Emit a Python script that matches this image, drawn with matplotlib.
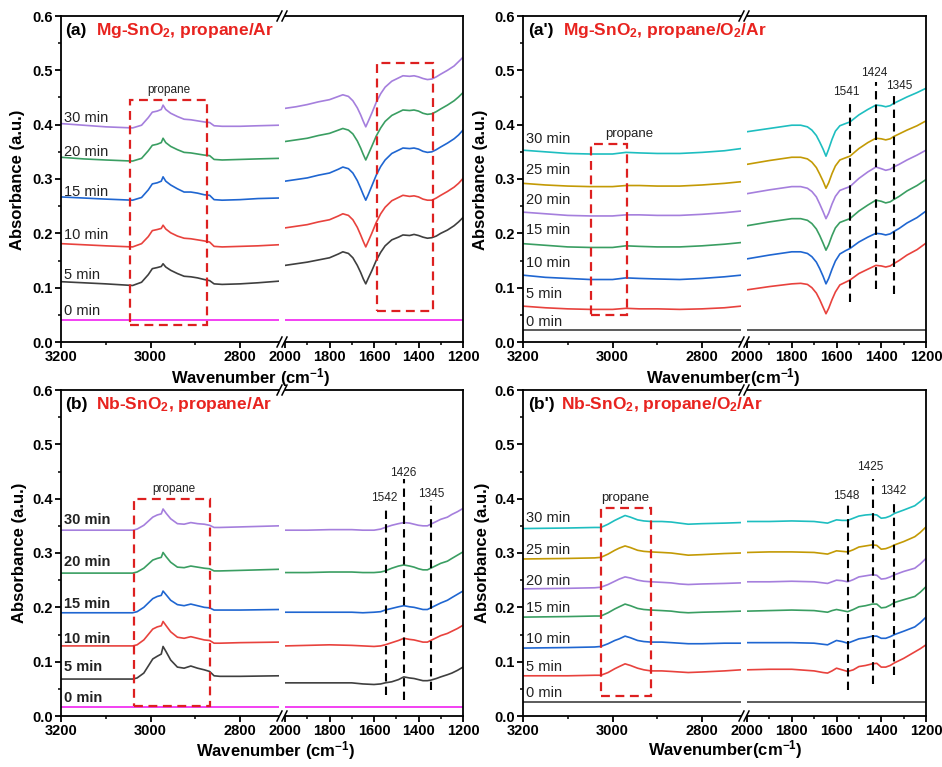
import matplotlib
matplotlib.use('Agg')
import matplotlib.pyplot as plt
from matplotlib.patches import Rectangle
from matplotlib.lines import Line2D
from matplotlib.ticker import MultipleLocator, FixedLocator, FormatStrFormatter

plt.rcParams['font.family'] = ['Liberation Sans', 'DejaVu Sans']
plt.rcParams['font.weight'] = 'bold'
plt.rcParams['mathtext.fontset'] = 'custom'
plt.rcParams['mathtext.rm'] = 'Liberation Sans:bold'
plt.rcParams['mathtext.bf'] = 'Liberation Sans:bold'
plt.rcParams['mathtext.it'] = 'Liberation Sans:bold:italic'

# ---------------- data ----------------
left_edge = [3200, 2713]
right_edge = [2000, 1200]

# (a) Mg-SnO2, propane/Ar
a_times = ['0 min', '5 min', '10 min', '15 min', '20 min', '30 min']
a_label_y = [0.057, 0.123, 0.197, 0.276, 0.349, 0.413]
a_wn_l = [3200, 3150, 3100, 3040, 3020, 3005, 2996, 2985, 2976, 2972, 2966, 2955, 2940, 2925,
          2910, 2895, 2880, 2868, 2858, 2840, 2800, 2760, 2713]
a_l_0 = [0.041, 0.041]
a_l_5 = [0.111, 0.109, 0.107, 0.104, 0.110, 0.124, 0.135, 0.137, 0.139, 0.144, 0.138, 0.132, 0.126, 0.121,
         0.120, 0.118, 0.115, 0.113, 0.107, 0.106, 0.107, 0.109, 0.112]
a_l_10 = [0.181, 0.179, 0.177, 0.175, 0.181, 0.194, 0.205, 0.207, 0.209, 0.215, 0.208, 0.201, 0.195, 0.191,
          0.190, 0.188, 0.186, 0.184, 0.176, 0.175, 0.176, 0.177, 0.179]
a_l_15 = [0.267, 0.265, 0.263, 0.261, 0.266, 0.280, 0.291, 0.293, 0.296, 0.304, 0.296, 0.289, 0.282, 0.276,
          0.276, 0.274, 0.271, 0.270, 0.262, 0.261, 0.262, 0.264, 0.265]
a_l_20 = [0.340, 0.337, 0.335, 0.333, 0.338, 0.352, 0.362, 0.364, 0.367, 0.375, 0.367, 0.360, 0.354, 0.349,
          0.348, 0.346, 0.344, 0.343, 0.336, 0.335, 0.336, 0.337, 0.338]
a_l_30 = [0.402, 0.399, 0.396, 0.394, 0.399, 0.413, 0.423, 0.425, 0.428, 0.436, 0.428, 0.421, 0.415, 0.410,
          0.409, 0.407, 0.405, 0.404, 0.398, 0.397, 0.397, 0.398, 0.399]
a_wn_r = [2000, 1950, 1900, 1850, 1800, 1760, 1740, 1715, 1695, 1675, 1660, 1648, 1637, 1625, 1610, 1590,
          1570, 1550, 1520, 1490, 1470, 1440, 1420, 1400, 1380, 1360, 1340, 1320, 1300, 1270, 1240, 1220, 1200]
a_r_0 = [0.041, 0.041]
a_r_5 = [0.141, 0.144, 0.147, 0.151, 0.155, 0.162, 0.166, 0.163, 0.155, 0.141, 0.128, 0.116, 0.107, 0.118,
         0.131, 0.150, 0.165, 0.177, 0.188, 0.193, 0.197, 0.196, 0.198, 0.196, 0.193, 0.191, 0.192, 0.195,
         0.200, 0.206, 0.214, 0.221, 0.229]
a_r_10 = [0.210, 0.213, 0.216, 0.221, 0.225, 0.232, 0.236, 0.233, 0.225, 0.211, 0.197, 0.185, 0.175, 0.186,
          0.200, 0.220, 0.236, 0.248, 0.260, 0.266, 0.270, 0.268, 0.269, 0.267, 0.263, 0.261, 0.261, 0.265,
          0.270, 0.277, 0.285, 0.292, 0.301]
a_r_15 = [0.296, 0.299, 0.302, 0.307, 0.311, 0.318, 0.322, 0.319, 0.311, 0.297, 0.283, 0.271, 0.261, 0.272,
          0.287, 0.307, 0.323, 0.335, 0.347, 0.353, 0.357, 0.356, 0.357, 0.355, 0.351, 0.349, 0.350, 0.354,
          0.359, 0.366, 0.374, 0.381, 0.390]
a_r_20 = [0.369, 0.372, 0.375, 0.380, 0.384, 0.390, 0.393, 0.390, 0.383, 0.370, 0.357, 0.345, 0.335, 0.346,
          0.360, 0.379, 0.394, 0.406, 0.417, 0.423, 0.427, 0.426, 0.427, 0.425, 0.421, 0.419, 0.420, 0.424,
          0.429, 0.436, 0.444, 0.451, 0.459]
a_r_30 = [0.430, 0.433, 0.437, 0.442, 0.446, 0.452, 0.455, 0.452, 0.444, 0.431, 0.418, 0.406, 0.396, 0.407,
          0.421, 0.441, 0.457, 0.469, 0.480, 0.486, 0.490, 0.489, 0.490, 0.488, 0.485, 0.483, 0.484, 0.488,
          0.493, 0.500, 0.508, 0.516, 0.524]

# (a') Mg-SnO2, propane/O2/Ar
a2_times = ['0 min', '5 min', '10 min', '15 min', '20 min', '25 min', '30 min']
a2_label_y = [0.037, 0.089, 0.146, 0.206, 0.262, 0.316, 0.373]
a2_wn_l = [3200, 3150, 3100, 3050, 3000, 2970, 2940, 2900, 2850, 2800, 2750, 2713]
a2_l_0 = [0.023, 0.023]
a2_l_5 = [0.066, 0.063, 0.061, 0.060, 0.060, 0.062, 0.061, 0.061, 0.060, 0.061, 0.063, 0.066]
a2_l_10 = [0.123, 0.119, 0.117, 0.115, 0.115, 0.118, 0.117, 0.116, 0.115, 0.117, 0.120, 0.123]
a2_l_15 = [0.181, 0.178, 0.175, 0.174, 0.174, 0.177, 0.176, 0.175, 0.175, 0.177, 0.180, 0.183]
a2_l_20 = [0.239, 0.236, 0.233, 0.232, 0.232, 0.234, 0.234, 0.233, 0.233, 0.235, 0.238, 0.241]
a2_l_25 = [0.292, 0.289, 0.287, 0.286, 0.286, 0.288, 0.288, 0.287, 0.287, 0.289, 0.292, 0.295]
a2_l_30 = [0.353, 0.350, 0.347, 0.346, 0.346, 0.349, 0.348, 0.347, 0.347, 0.349, 0.352, 0.356]
a2_wn_r = [2000, 1900, 1800, 1760, 1730, 1710, 1690, 1675, 1660, 1647, 1635, 1620, 1605, 1585, 1560,
           1540, 1500, 1460, 1424, 1400, 1380, 1360, 1345, 1320, 1285, 1240, 1200]
a2_r_0 = [0.023, 0.023]
a2_r_5 = [0.096, 0.102, 0.107, 0.108, 0.106, 0.100, 0.090, 0.078, 0.064, 0.052, 0.062, 0.078, 0.092, 0.105,
          0.110, 0.114, 0.126, 0.134, 0.141, 0.140, 0.138, 0.140, 0.144, 0.150, 0.160, 0.170, 0.182]
a2_r_10 = [0.153, 0.160, 0.166, 0.166, 0.163, 0.157, 0.147, 0.135, 0.121, 0.107, 0.117, 0.134, 0.149, 0.162,
           0.168, 0.172, 0.184, 0.193, 0.200, 0.199, 0.197, 0.199, 0.203, 0.209, 0.219, 0.229, 0.241]
a2_r_15 = [0.214, 0.221, 0.227, 0.227, 0.224, 0.218, 0.208, 0.196, 0.182, 0.169, 0.179, 0.196, 0.210, 0.220,
           0.224, 0.227, 0.241, 0.252, 0.261, 0.259, 0.256, 0.258, 0.262, 0.268, 0.278, 0.288, 0.299]
a2_r_20 = [0.273, 0.280, 0.286, 0.286, 0.283, 0.277, 0.267, 0.254, 0.240, 0.227, 0.237, 0.254, 0.268, 0.279,
           0.283, 0.286, 0.301, 0.313, 0.322, 0.319, 0.316, 0.318, 0.322, 0.327, 0.335, 0.344, 0.353]
a2_r_25 = [0.327, 0.334, 0.340, 0.340, 0.337, 0.331, 0.321, 0.309, 0.296, 0.283, 0.293, 0.310, 0.324, 0.335,
           0.339, 0.342, 0.356, 0.367, 0.375, 0.374, 0.372, 0.374, 0.378, 0.383, 0.390, 0.398, 0.407]
a2_r_30 = [0.387, 0.393, 0.399, 0.399, 0.396, 0.390, 0.380, 0.368, 0.355, 0.342, 0.355, 0.373, 0.388, 0.398,
           0.402, 0.405, 0.418, 0.428, 0.436, 0.435, 0.433, 0.435, 0.439, 0.444, 0.451, 0.459, 0.467]
a2_peaks = [1541, 1424, 1345]
a2_peak_pos = [1541, 1422, 1343]
a2_peak_span = [(0.074, 0.445), (0.098, 0.479), (0.089, 0.458)]
a2_peak_text = [(1555, 0.461), (1430, 0.496), (1320, 0.471)]

# (b) Nb-SnO2, propane/Ar
b_times = ['0 min', '5 min', '10 min', '15 min', '20 min', '30 min']
b_label_y = [0.033, 0.090, 0.141, 0.207, 0.283, 0.361]
b_wn_l = [3200, 3100, 3040, 3030, 3015, 2995, 2985, 2976, 2972, 2965, 2955, 2940, 2925, 2910, 2895, 2880,
          2868, 2858, 2845, 2800, 2713]
b_l_0 = [0.016, 0.016]
b_l_5 = [0.068, 0.068, 0.068, 0.070, 0.079, 0.105, 0.110, 0.114, 0.128, 0.118, 0.103, 0.090, 0.088, 0.092,
         0.088, 0.085, 0.082, 0.074, 0.073, 0.073, 0.074]
b_l_10 = [0.129, 0.129, 0.129, 0.131, 0.140, 0.160, 0.164, 0.166, 0.174, 0.166, 0.155, 0.145, 0.143, 0.146,
          0.143, 0.140, 0.139, 0.134, 0.134, 0.135, 0.136]
b_l_15 = [0.190, 0.190, 0.190, 0.192, 0.200, 0.216, 0.220, 0.222, 0.230, 0.223, 0.213, 0.205, 0.203, 0.206,
          0.203, 0.200, 0.199, 0.195, 0.195, 0.195, 0.196]
b_l_20 = [0.263, 0.263, 0.263, 0.265, 0.272, 0.287, 0.290, 0.292, 0.301, 0.293, 0.283, 0.274, 0.273, 0.276,
          0.274, 0.272, 0.271, 0.267, 0.267, 0.268, 0.270]
b_l_30 = [0.342, 0.342, 0.342, 0.344, 0.351, 0.366, 0.370, 0.372, 0.381, 0.373, 0.363, 0.354, 0.353, 0.356,
          0.354, 0.353, 0.351, 0.347, 0.347, 0.348, 0.350]
b_wn_r = [2000, 1900, 1800, 1700, 1650, 1600, 1570, 1550, 1520, 1490, 1466, 1440, 1420, 1400, 1380, 1360,
          1345, 1320, 1300, 1270, 1250, 1225, 1200]
b_r_0 = [0.016, 0.016]
b_r_5 = [0.061, 0.061, 0.061, 0.061, 0.059, 0.058, 0.059, 0.061, 0.063, 0.067, 0.072, 0.070, 0.069, 0.067,
         0.065, 0.065, 0.066, 0.069, 0.072, 0.076, 0.079, 0.084, 0.090]
b_r_10 = [0.129, 0.130, 0.131, 0.130, 0.129, 0.128, 0.129, 0.131, 0.135, 0.139, 0.143, 0.141, 0.140, 0.138,
          0.136, 0.136, 0.139, 0.144, 0.148, 0.152, 0.156, 0.161, 0.167]
b_r_15 = [0.191, 0.191, 0.191, 0.191, 0.190, 0.191, 0.192, 0.195, 0.198, 0.201, 0.203, 0.201, 0.200, 0.198,
          0.196, 0.196, 0.199, 0.204, 0.208, 0.213, 0.218, 0.224, 0.230]
b_r_20 = [0.264, 0.264, 0.265, 0.265, 0.264, 0.264, 0.265, 0.267, 0.272, 0.276, 0.278, 0.276, 0.274, 0.271,
          0.269, 0.269, 0.272, 0.277, 0.281, 0.285, 0.290, 0.296, 0.302]
b_r_30 = [0.342, 0.342, 0.343, 0.343, 0.342, 0.342, 0.344, 0.347, 0.351, 0.354, 0.356, 0.355, 0.353, 0.351,
          0.350, 0.350, 0.353, 0.358, 0.362, 0.366, 0.371, 0.376, 0.382]
b_peaks = [1542, 1426, 1345]
b_peak_pos = [1545, 1466, 1343]
b_peak_span = [(0.039, 0.382), (0.029, 0.437), (0.048, 0.398)]
b_peak_text = [(1552, 0.402), (1468, 0.448), (1345, 0.409)]

# (b') Nb-SnO2, propane/O2/Ar
b2_times = ['0 min', '5 min', '10 min', '15 min', '20 min', '25 min', '30 min']
b2_label_y = [0.042, 0.090, 0.141, 0.199, 0.248, 0.306, 0.364]
b2_wn_l = [3200, 3100, 3040, 3026, 3010, 2995, 2985, 2972, 2960, 2944, 2930, 2914, 2890, 2869, 2850, 2831,
           2800, 2750, 2713]
b2_l_0 = [0.026, 0.026]
b2_l_5 = [0.074, 0.074, 0.075, 0.075, 0.080, 0.087, 0.091, 0.096, 0.093, 0.088, 0.085, 0.083, 0.083, 0.082,
          0.081, 0.080, 0.081, 0.083, 0.085]
b2_l_10 = [0.125, 0.126, 0.127, 0.128, 0.133, 0.139, 0.142, 0.147, 0.144, 0.139, 0.137, 0.136, 0.136, 0.135,
           0.134, 0.133, 0.133, 0.134, 0.134]
b2_l_15 = [0.182, 0.183, 0.184, 0.184, 0.190, 0.197, 0.201, 0.206, 0.203, 0.198, 0.196, 0.195, 0.194, 0.193,
           0.191, 0.190, 0.191, 0.192, 0.193]
b2_l_20 = [0.234, 0.235, 0.236, 0.237, 0.242, 0.248, 0.252, 0.256, 0.254, 0.250, 0.248, 0.247, 0.246, 0.245,
           0.243, 0.242, 0.243, 0.244, 0.245]
b2_l_25 = [0.289, 0.290, 0.291, 0.292, 0.298, 0.305, 0.309, 0.313, 0.310, 0.305, 0.303, 0.302, 0.301, 0.300,
           0.298, 0.296, 0.297, 0.299, 0.300]
b2_l_30 = [0.345, 0.346, 0.347, 0.347, 0.353, 0.360, 0.364, 0.369, 0.366, 0.361, 0.359, 0.358, 0.358, 0.357,
           0.355, 0.353, 0.354, 0.355, 0.356]
b2_wn_r = [2000, 1900, 1800, 1700, 1660, 1640, 1620, 1600, 1575, 1550, 1525, 1500, 1470, 1440, 1420, 1400,
           1380, 1360, 1340, 1300, 1250, 1225, 1200]
b2_r_0 = [0.026, 0.026]
b2_r_5 = [0.085, 0.086, 0.086, 0.083, 0.080, 0.079, 0.083, 0.088, 0.085, 0.082, 0.085, 0.091, 0.093, 0.096,
          0.097, 0.090, 0.090, 0.093, 0.098, 0.106, 0.118, 0.124, 0.131]
b2_r_10 = [0.135, 0.135, 0.135, 0.134, 0.132, 0.131, 0.135, 0.139, 0.137, 0.134, 0.138, 0.142, 0.144, 0.147,
           0.147, 0.143, 0.143, 0.146, 0.150, 0.156, 0.164, 0.172, 0.182]
b2_r_15 = [0.193, 0.194, 0.195, 0.194, 0.192, 0.191, 0.194, 0.196, 0.194, 0.192, 0.196, 0.201, 0.203, 0.206,
           0.206, 0.199, 0.200, 0.204, 0.209, 0.214, 0.220, 0.228, 0.238]
b2_r_20 = [0.247, 0.247, 0.248, 0.247, 0.245, 0.244, 0.247, 0.250, 0.249, 0.247, 0.251, 0.256, 0.258, 0.260,
           0.259, 0.252, 0.253, 0.256, 0.260, 0.266, 0.272, 0.280, 0.290]
b2_r_25 = [0.301, 0.302, 0.302, 0.301, 0.299, 0.298, 0.301, 0.304, 0.303, 0.302, 0.306, 0.311, 0.313, 0.315,
           0.314, 0.307, 0.308, 0.311, 0.315, 0.321, 0.330, 0.338, 0.348]
b2_r_30 = [0.358, 0.358, 0.359, 0.358, 0.356, 0.355, 0.358, 0.361, 0.360, 0.360, 0.364, 0.368, 0.370, 0.371,
           0.370, 0.364, 0.365, 0.368, 0.373, 0.379, 0.387, 0.395, 0.404]
b2_peaks = [1548, 1425, 1342]
b2_peak_pos = [1547, 1436, 1342]
b2_peak_span = [(0.048, 0.391), (0.059, 0.437), (0.075, 0.396)]
b2_peak_text = [(1555, 0.404), (1450, 0.458), (1345, 0.414)]

# colours
MAG, GRY, RED, BLU, GRN, PUR, GLD, CYN = ('#F020F0', '#3F3F3F', '#E8423D', '#1F66D1',
                                          '#3A9E62', '#A57FDD', '#C39A05', '#1EBEC0')
ar_colors = [MAG, GRY, RED, BLU, GRN, PUR]
o2_colors = [GRY, RED, BLU, GRN, PUR, GLD, CYN]
box_red = '#DD2020'
title_red = '#E8231F'

W, H = 942, 767
fig = plt.figure(figsize=(W / 100, H / 100), dpi=100)


def make_axes(xl0, xl1, xr0, xr1, ytop, ybot):
    axl = fig.add_axes([xl0 / W, 1 - ybot / H, (xl1 - xl0) / W, (ybot - ytop) / H])
    axr = fig.add_axes([xr0 / W, 1 - ybot / H, (xr1 - xr0) / W, (ybot - ytop) / H])
    axl.set_xlim(3200, 2713)
    axr.set_xlim(2000, 1200)
    for ax in (axl, axr):
        ax.set_ylim(0, 0.6)
        for s in ax.spines.values():
            s.set_linewidth(1.3)
        ax.tick_params(which='major', direction='out', width=1.3, length=4, labelsize=10.5, pad=2)
        ax.tick_params(which='minor', direction='out', width=1.1, length=2.5)
        ax.set_facecolor('none')
    axl.spines['right'].set_visible(False)
    axr.spines['left'].set_visible(False)
    axr.tick_params(axis='y', which='both', left=False, labelleft=False)
    axl.xaxis.set_major_locator(FixedLocator([3200, 3000, 2800]))
    axl.xaxis.set_minor_locator(FixedLocator([3100, 2900]))
    axr.xaxis.set_major_locator(MultipleLocator(200))
    axr.xaxis.set_minor_locator(MultipleLocator(100))
    axl.yaxis.set_major_locator(MultipleLocator(0.1))
    axl.yaxis.set_minor_locator(MultipleLocator(0.05))
    axl.yaxis.set_major_formatter(FormatStrFormatter('%.1f'))
    # break marks
    cx = (xl1 + xr0) / 2
    for yy in (ytop, ybot):
        for dx in (-2.5, 2.5):
            fig.add_artist(Line2D([(cx + dx - 2.5) / W, (cx + dx + 2.5) / W],
                                  [1 - (yy + 5) / H, 1 - (yy - 5) / H], color='k', lw=1.1))
    return axl, axr


def draw_panel(axl, axr, wn_l, left, wn_r, right, colors, times, label_y, label_bold):
    for yl, yr, c, t, ly in zip(left, right, colors, times, label_y):
        xl = left_edge if len(yl) == 2 else wn_l
        xr = right_edge if len(yr) == 2 else wn_r
        axl.plot(xl, yl, color=c, lw=1.2)
        axr.plot(xr, yr, color=c, lw=1.2)
        axl.text(3193, ly, t, fontsize=10.5, fontweight='bold' if label_bold else 'normal',
                 color='#222222', va='center', ha='left')


def title(axl, tag, xtag, text, xtext, y):
    axl.text(xtag, y, tag, fontsize=12.5, fontweight='bold', color='k', va='center', ha='left')
    axl.text(xtext, y, text, fontsize=12.5, fontweight='bold', color=title_red, va='center', ha='left')


def box(ax, x0, x1, y0, y1):
    ax.add_patch(Rectangle((x0, y0), x1 - x0, y1 - y0, fill=False, ec=box_red, lw=1.6,
                           ls=(0, (4, 2.5)), clip_on=False, zorder=5))


def peaks(axr, pos, span, labels, text_pos):
    for p, (y0, y1), lab, (tx, ty) in zip(pos, span, labels, text_pos):
        axr.plot([p, p], [y0, y1], color='k', lw=1.5, ls=(0, (4, 2.5)), zorder=5)
        axr.text(tx, ty, str(lab), fontsize=8.5, color='#222222', ha='center', va='center',
                 fontweight='normal')


def axis_labels(xa, ya, xw, yw, wtext):
    fig.text(xa / W, 1 - ya / H, 'Absorbance (a.u.)', rotation=90, fontsize=12, fontweight='bold',
             ha='center', va='center')
    fig.text(xw / W, 1 - yw / H, wtext, fontsize=12, fontweight='bold', ha='center', va='center')


# (a)
axl, axr = make_axes(61, 279, 285, 463, 16, 342)
draw_panel(axl, axr, a_wn_l, [a_l_0, a_l_5, a_l_10, a_l_15, a_l_20, a_l_30],
           a_wn_r, [a_r_0, a_r_5, a_r_10, a_r_15, a_r_20, a_r_30],
           ar_colors, a_times, a_label_y, False)
box(axl, 3045, 2873, 0.031, 0.445)
box(axr, 1586, 1335, 0.057, 0.513)
axl.text(2959, 0.464, 'propane', fontsize=8.5, fontweight='normal', color='#222222', ha='center', va='center')
title(axl, '(a)', 3191, 'Mg-SnO$_2$, propane/Ar', 3122, 0.573)
axis_labels(18, 180, 251, 378, 'Wavenumber (cm$^{-1}$)')

# (a')
axl, axr = make_axes(523, 741, 747, 926, 16, 342)
draw_panel(axl, axr, a2_wn_l, [a2_l_0, a2_l_5, a2_l_10, a2_l_15, a2_l_20, a2_l_25, a2_l_30],
           a2_wn_r, [a2_r_0, a2_r_5, a2_r_10, a2_r_15, a2_r_20, a2_r_25, a2_r_30],
           o2_colors, a2_times, a2_label_y, False)
box(axl, 3049, 2967, 0.049, 0.365)
axl.text(2962, 0.383, 'propane', fontsize=9.5, fontweight='normal', color='#222222', ha='center', va='center')
peaks(axr, a2_peak_pos, a2_peak_span, a2_peaks, a2_peak_text)
title(axl, "(a')", 3189, 'Mg-SnO$_2$, propane/O$_2$/Ar', 3111, 0.573)
axis_labels(480, 180, 723, 378, 'Wavenumber(cm$^{-1}$)')

# (b)
axl, axr = make_axes(61, 279, 285, 463, 390, 716)
draw_panel(axl, axr, b_wn_l, [b_l_0, b_l_5, b_l_10, b_l_15, b_l_20, b_l_30],
           b_wn_r, [b_r_0, b_r_5, b_r_10, b_r_15, b_r_20, b_r_30],
           ar_colors, b_times, b_label_y, True)
box(axl, 3037, 2867, 0.018, 0.399)
axl.text(2948, 0.418, 'propane', fontsize=8.5, fontweight='normal', color='#222222', ha='center', va='center')
peaks(axr, b_peak_pos, b_peak_span, b_peaks, b_peak_text)
title(axl, '(b)', 3191, 'Nb-SnO$_2$, propane/Ar', 3122, 0.573)
axis_labels(20, 553, 276, 751, 'Wavenumber (cm$^{-1}$)')

# (b')
axl, axr = make_axes(523, 741, 747, 926, 390, 716)
draw_panel(axl, axr, b2_wn_l, [b2_l_0, b2_l_5, b2_l_10, b2_l_15, b2_l_20, b2_l_25, b2_l_30],
           b2_wn_r, [b2_r_0, b2_r_5, b2_r_10, b2_r_15, b2_r_20, b2_r_25, b2_r_30],
           o2_colors, b2_times, b2_label_y, False)
box(axl, 3026, 2914, 0.037, 0.382)
axl.text(2972, 0.401, 'propane', fontsize=9.5, fontweight='normal', color='#222222', ha='center', va='center')
peaks(axr, b2_peak_pos, b2_peak_span, b2_peaks, b2_peak_text)
title(axl, "(b')", 3189, 'Nb-SnO$_2$, propane/O$_2$/Ar', 3115, 0.573)
axis_labels(482, 553, 725, 750, 'Wavenumber(cm$^{-1}$)')

fig.savefig('out.png', dpi=100)
